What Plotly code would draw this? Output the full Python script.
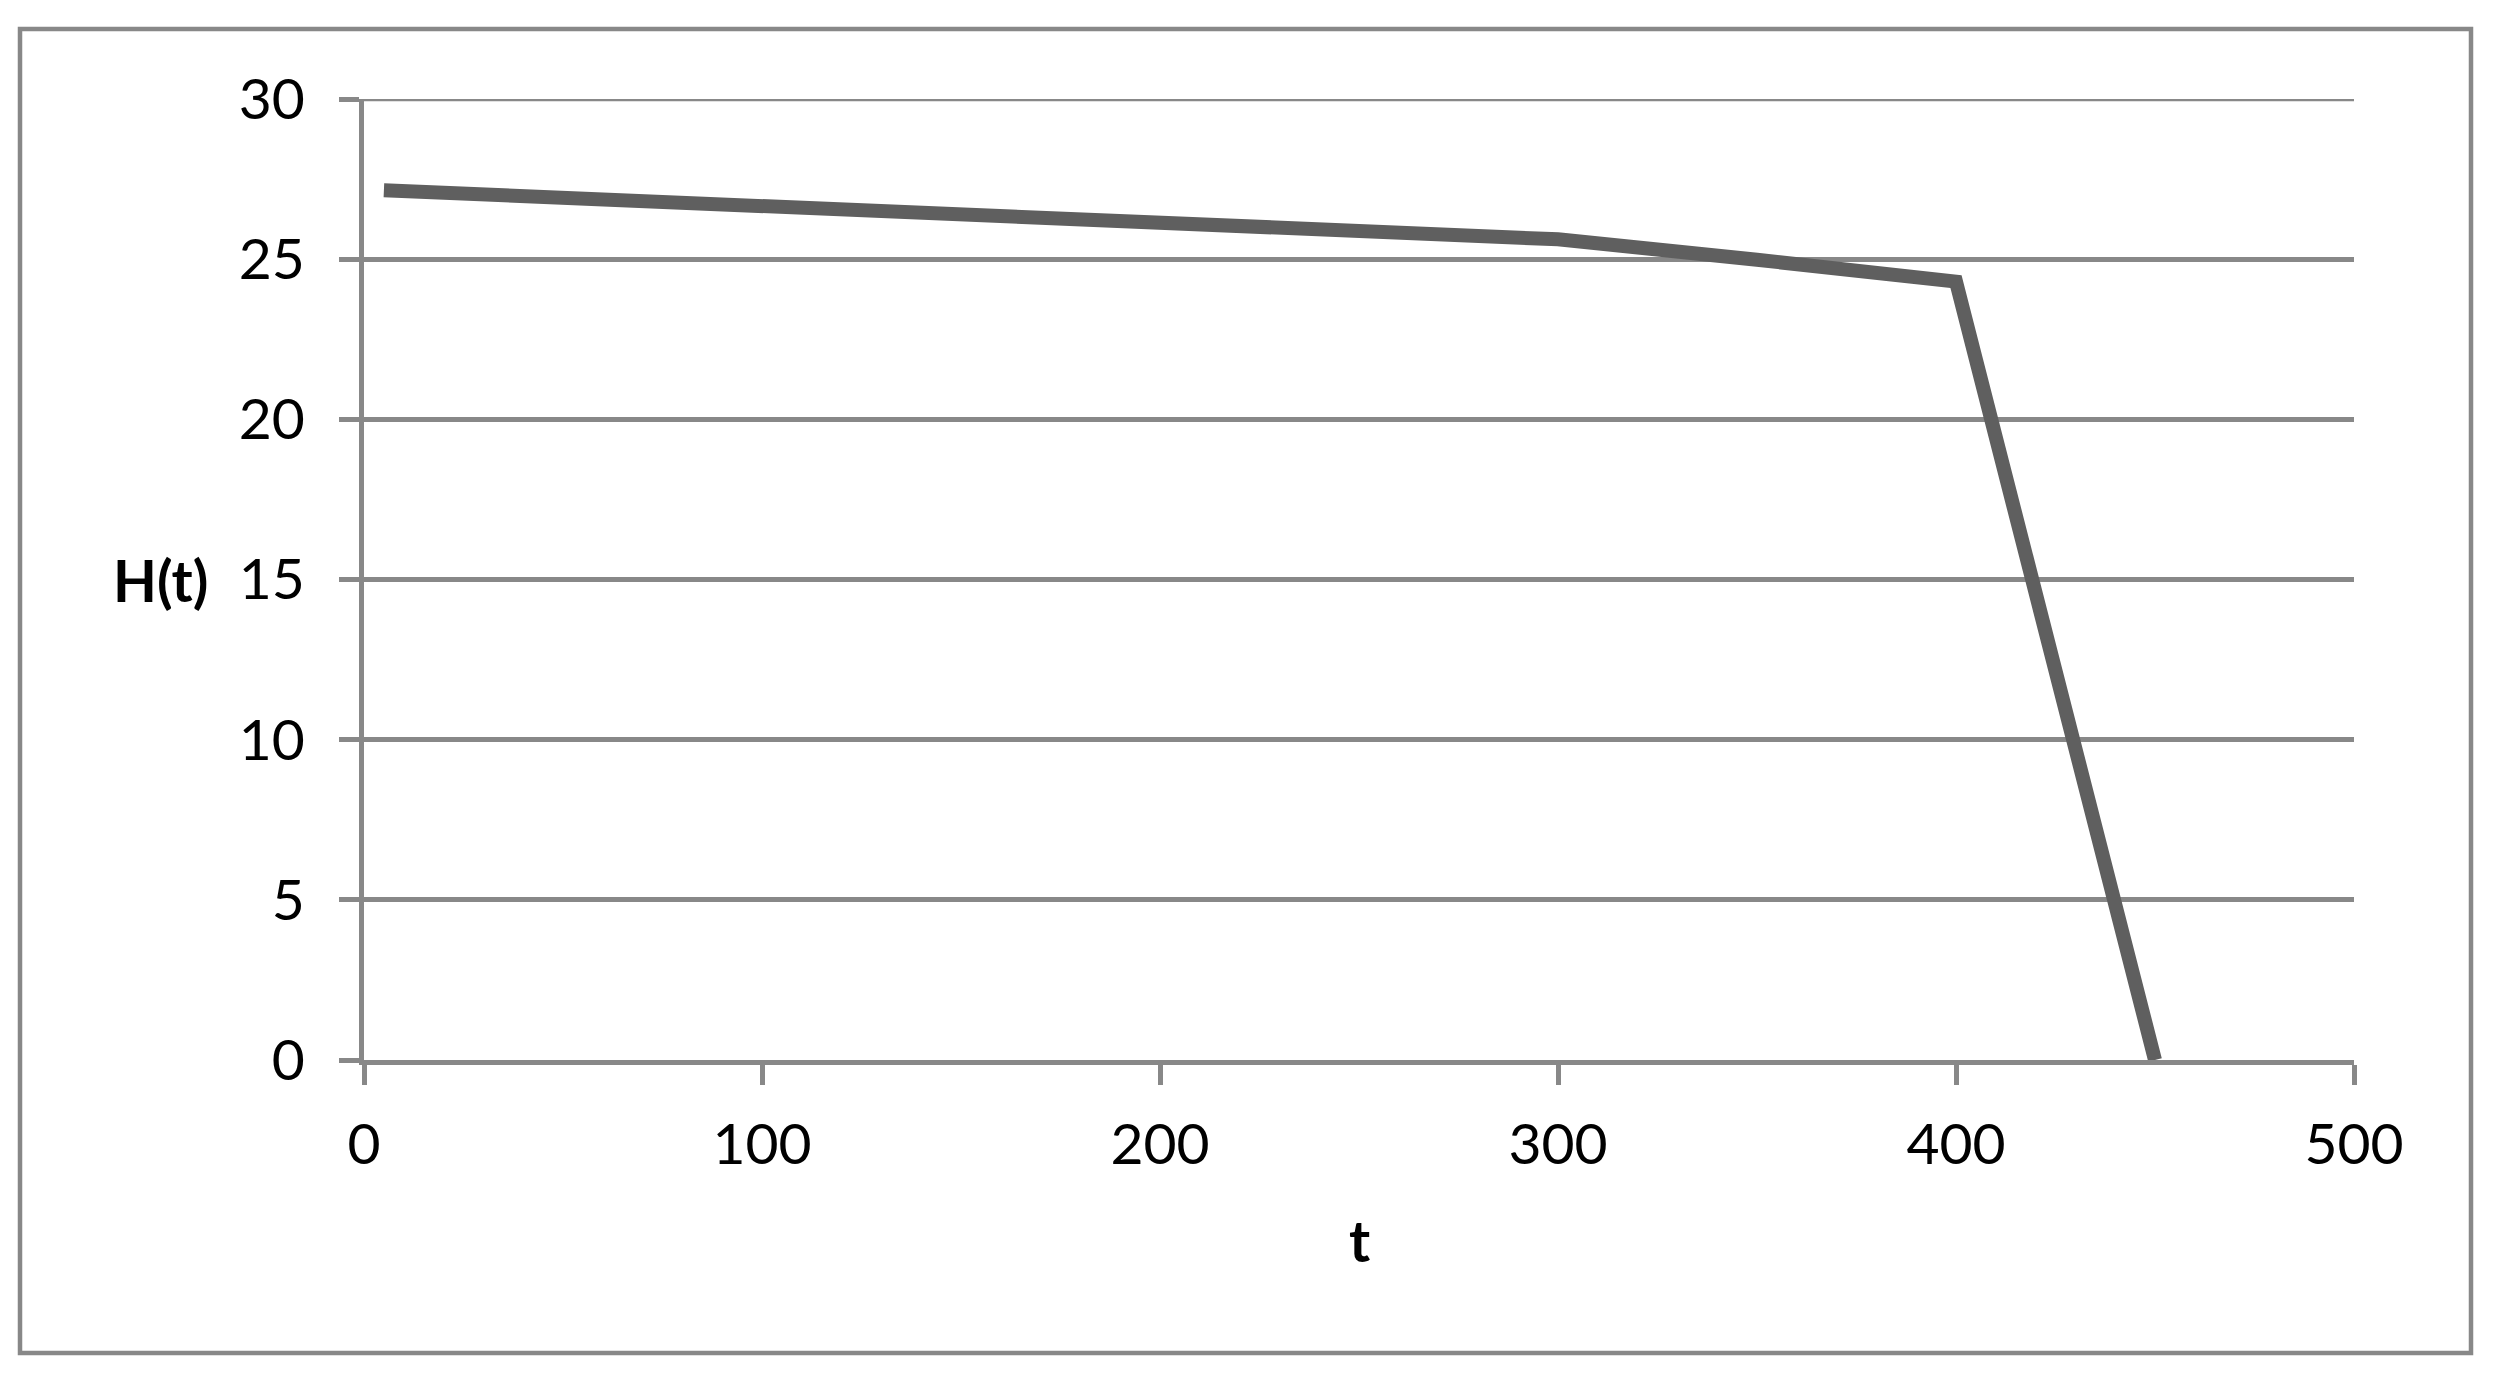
import plotly.graph_objects as go

# Data
t_values = [5, 50, 100, 150, 200, 250, 300, 350, 400, 450]
h_values = [27.15, 26.9, 26.65, 26.4, 26.15, 25.88, 25.62, 24.98, 24.3, 0]
x_ticks = [0, 100, 200, 300, 400, 500]
y_ticks = [0, 5, 10, 15, 20, 25, 30]

OFF = 8  # default body margin of the html page
W, H = 2493 - 2 * OFF, 1379 - 2 * OFF
# target page pixels of the plot area
PX_L, PX_R, PX_T, PX_B = 364, 2354, 99, 1060
L = PX_L - OFF
T = PX_T - OFF
R = W - (PX_R - OFF)
B = H - (PX_B - OFF)
PW, PH = W - L - R, H - T - B

GRID = "#888888"
FONT = "Lato"
FS = 57

fig = go.Figure()
fig.add_trace(go.Scatter(
    x=t_values, y=h_values, mode="lines",
    line=dict(color="#5f5f5f", width=14),
    showlegend=False, hoverinfo="skip",
))

def px_x(p):
    return (p - PX_L) / PW

def px_y(p):
    return (PX_B - p) / PH

fig.update_layout(
    width=W, height=H,
    margin=dict(l=L, r=R, t=T, b=B, pad=0),
    paper_bgcolor="white", plot_bgcolor="white",
    font=dict(family=FONT, size=FS, color="black"),
    xaxis=dict(
        range=[0, 500], tickvals=x_ticks, ticktext=[str(v) for v in x_ticks],
        showgrid=False, zeroline=False,
        showline=True, linecolor=GRID, linewidth=4.5,
        ticks="outside", ticklen=20, tickwidth=4.5, tickcolor=GRID,
        ticklabelstandoff=11,
        tickfont=dict(family=FONT, size=FS, color="black"),
    ),
    yaxis=dict(
        range=[0, 30], tickvals=y_ticks, ticktext=[str(v) for v in y_ticks],
        showgrid=True, gridcolor=GRID, gridwidth=4.5, zeroline=False,
        showline=True, linecolor=GRID, linewidth=4.5,
        ticks="outside", ticklen=20, tickwidth=4.5, tickcolor=GRID,
        ticklabelstandoff=23,
        tickfont=dict(family=FONT, size=FS, color="black"),
    ),
    shapes=[
        dict(type="rect", xref="paper", yref="paper",
             x0=px_x(20), x1=px_x(2471), y0=px_y(1353), y1=px_y(29),
             line=dict(color=GRID, width=4.5), fillcolor="rgba(0,0,0,0)", layer="below"),
        dict(type="line", xref="paper", yref="y",
             x0=0, x1=1, y0=y_ticks[-1], y1=y_ticks[-1],
             line=dict(color=GRID, width=4.5), layer="below"),
    ],
    annotations=[
        dict(text="<b>H(t)</b>", xref="paper", yref="paper",
             x=px_x(160), y=0.5, xanchor="center", yanchor="middle",
             showarrow=False, font=dict(family=FONT, size=FS, color="black")),
        dict(text="<b>t</b>", xref="paper", yref="paper",
             x=0.5, y=px_y(1240), xanchor="center", yanchor="middle",
             showarrow=False, font=dict(family=FONT, size=FS, color="black")),
    ],
)

fig.write_html("out.html")
